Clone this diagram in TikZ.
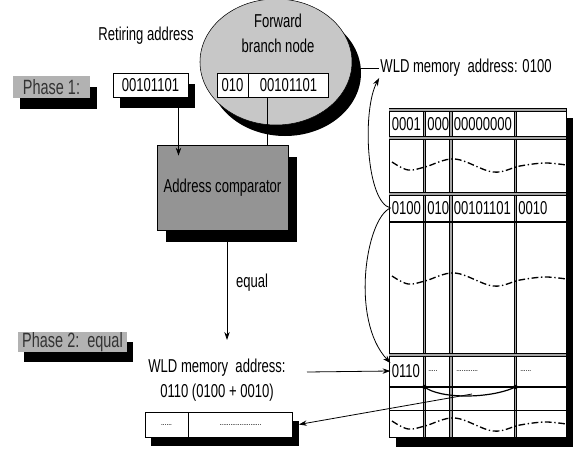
\documentclass[tikz,border=0pt]{standalone}
\usepackage{fontspec}
\setmainfont{Liberation Sans}[FakeStretch=0.7]
\usetikzlibrary{arrows.meta,shapes.geometric,backgrounds}

\tikzset{
  txt/.style={inner sep=0.75pt, font=\fontsize{14}{18.5}\selectfont},
  cell/.style={draw, fill=white, inner sep=0pt, minimum height=18pt, font=\fontsize{14}{16}\selectfont},
  celltxt/.style={anchor=west, inner sep=0.75pt, font=\fontsize{14}{16}\selectfont},
  phase/.style={fill=black!30, inner sep=0pt, text=black!80, font=\fontsize{15.5}{17}\selectfont},
  arr/.style={-{Stealth[length=6pt,width=4pt]}, line width=0.6pt},
  dbl/.style={double=black!35, double distance=1.3pt, line width=0.5pt},
  wave/.style={dash pattern=on 5pt off 2pt on 1pt off 2pt, line width=1pt},
}

\begin{document}
\begin{tikzpicture}[x=0.75pt,y=0.75pt,yscale=-1,xscale=1]
\useasboundingbox (0,0) rectangle (576,450);

% phase 1 and the two addresses
\node[phase, minimum width=57.75pt, minimum height=16.5pt] (ph1) at (51.5,87) {Phase 1:};
\node[txt] (retlbl) at (146,36) {Retiring address};
\node[cell, minimum width=56.25pt] (ret) at (150.5,85) {00101101};

\node[ellipse, draw, fill=black!22, inner sep=0pt, minimum width=114pt, minimum height=94.5pt] (fbn) at (276,62) {};
\node[txt, align=center] (fbnlbl) at (278,33) {Forward\\branch node};
\node[cell, minimum width=23.25pt] (fid) at (232.5,85) {010};
\node[cell, minimum width=60pt, anchor=west] (faddr) at (fid.east) {00101101};

\node[txt, draw, fill=black!42, minimum width=98.25pt, minimum height=63.75pt] (comp) at (222.5,187.5) {Address comparator};

% phase 2
\node[phase, minimum width=81.75pt, minimum height=12.75pt] (ph2) at (72.5,342) {Phase 2:\ \ equal};
\node[txt, align=center] (wld) at (217,380) {WLD memory\ \ address:\\0110 (0100 + 0010)};
\node[cell, minimum width=32.25pt, minimum height=18.75pt, font=\scriptsize] (dl) at (166.5,424.5) {......};
\node[cell, minimum width=78pt, minimum height=18.75pt, font=\scriptsize, anchor=west] (dr) at (dl.east) {.......................};

\node[txt] (wldtop) at (466,68) {WLD memory\ \ address: 0100};

% shadows
\begin{scope}[on background layer]
\fill ([shift={(7,11)}]ph1.north west) rectangle ([shift={(7,11)}]ph1.south east);
\fill ([shift={(7,11)}]ret.north west) rectangle ([shift={(7,11)}]ret.south east);
\fill ([shift={(9,11)}]fbn.center) ellipse [x radius=76, y radius=63];
\fill ([shift={(9,12)}]comp.north west) rectangle ([shift={(9,12)}]comp.south east);
\fill ([shift={(6,10)}]ph2.north west) rectangle ([shift={(6,10)}]ph2.south east);
\fill ([shift={(6,9)}]dl.north west) rectangle ([shift={(6,9)}]dr.south east);
\end{scope}

% WLD table
\fill (396,118) rectangle (573,447);
\draw[fill=white, line width=0.5pt] (389,108) rectangle (566,437);
\draw[dbl] (424.5,108) -- (424.5,437);
\draw[dbl] (451,108) -- (451,437);
\draw[dbl] (515.5,108) -- (515.5,437);
\draw[dbl] (389,110) -- (566,110);
\draw[dbl] (389,138) -- (566,138);
\draw[dbl] (389,194) -- (566,194);
\draw[line width=1.5pt] (389,222) -- (566,222);
\draw[dbl] (389,355) -- (566,355);
\draw[line width=1.5pt] (389,387) -- (566,387);
\draw[line width=0.6pt] (389,410) -- (566,410);

\node[celltxt] (r1c1) at (390.5,124) {0001};
\node[celltxt] (r1c2) at (426,124) {000};
\node[celltxt] (r1c3) at (452.5,124) {00000000};
\node[celltxt] (r3c1) at (390.5,208) {0100};
\node[celltxt] (r3c2) at (426,208) {010};
\node[celltxt] (r3c3) at (452.5,208) {00101101};
\node[celltxt] (r3c4) at (517,208) {0010};
\node[celltxt] (r5c1) at (390.5,371) {0110};
\node[celltxt, font=\scriptsize] (r5c2) at (427,371) {.....};
\node[celltxt, font=\scriptsize] (r5c3) at (455,371) {............};
\node[celltxt, font=\scriptsize] (r5c4) at (519,371) {......};

\draw[wave] plot[smooth, tension=0.6] coordinates {(392,162) (408,170) (425,167) (455,159) (493,172) (520,166) (545,163) (566,165)};
\draw[wave, shift={(0,114)}] plot[smooth, tension=0.6] coordinates {(392,162) (408,170) (425,167) (455,159) (493,172) (520,166) (545,163) (566,165)};
\draw[wave, shift={(0,259)}] plot[smooth, tension=0.6] coordinates {(392,162) (408,170) (425,167) (455,159) (493,172) (520,166) (545,163) (566,165)};

% connectors
\coordinate (eqend) at (227,340);
\coordinate (wldout) at (307,372);
\coordinate (dotA) at (424.5,387);
\coordinate (dotB) at (515.5,387);
\coordinate (dipmid) at (472,394);

\draw[arr] ([shift={(28,11)}]ret.south) -- ([shift={(28,11)}]ret.south |- comp.north);
\draw[line width=0.6pt] ([shift={(-21,0)}]faddr.south) -- ([shift={(-21,0)}]faddr.south |- comp.north);
\draw[arr] ([shift={(4.5,12)}]comp.south) -- (eqend);
\node[txt] (eqlbl) at (252,283) {equal};
\draw[line width=0.6pt] (fbn.east |- wldtop.west) -- (wldtop.west);
\draw[arr] (r3c1.west) .. controls (366,202) and (362,110) .. (wldtop.south west);
\draw[arr] (r3c1.west) .. controls (366,218) and (350,320) .. (r5c1.north west);
\draw[arr] (wldout) -- (r5c1.west);
\fill (dotA) circle (2.2);
\fill (dotB) circle (2.2);
\draw[line width=0.9pt] (dotA) .. controls (440,399) and (490,399) .. (dotB);
\draw[arr] (dipmid) -- ([shift={(6,0)}]dr.east);

\end{tikzpicture}
\end{document}
